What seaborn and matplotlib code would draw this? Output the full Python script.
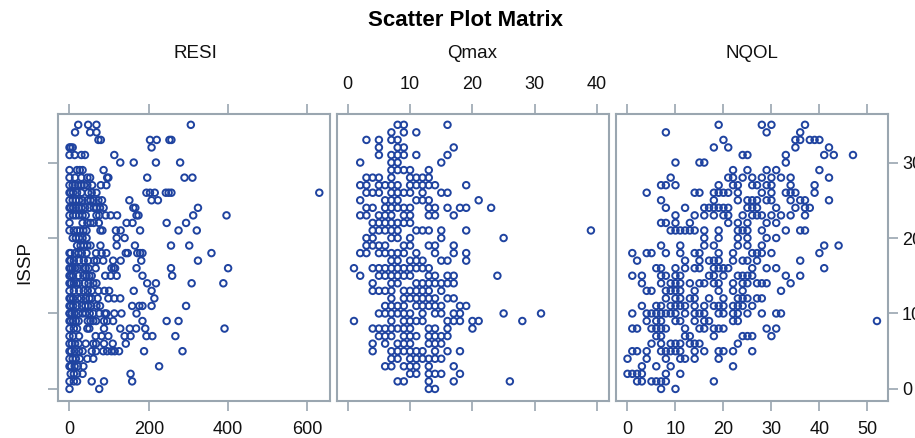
import pandas as pd
import matplotlib.pyplot as plt
import seaborn as sns

# ISSP score of each row of points, top to bottom
issp_rows = [35, 34, 33, 32, 31, 30, 29, 28, 27, 26, 25, 24,
             23, 22, 21, 20, 19, 18, 17, 16, 15, 14, 13, 12,
             11, 10, 9, 8, 7, 6, 5, 4, 3, 2, 1, 0]

resi_rows = [
    [22, 47, 68, 306],
    [14, 52, 68],
    [73, 79, 203, 220, 252, 257],
    [0, 3, 8, 207],
    [0, 13, 30, 39, 113],
    [128, 162, 218, 279],
    [0, 19, 26, 33, 86],
    [0, 14, 30, 45, 52, 95, 98, 196, 290, 310],
    [0, 8, 14, 22, 30, 37, 45, 57, 79, 93],
    [0, 3, 9, 19, 30, 47, 56, 68, 194, 203, 215, 243, 250, 257, 630],
    [0, 8, 16, 24, 33, 45, 53, 61, 73, 82, 151, 207, 223],
    [0, 3, 9, 16, 23, 30, 39, 50, 61, 68, 77, 86, 161, 166, 324],
    [0, 9, 16, 24, 33, 41, 68, 75, 91, 104, 120, 169, 174, 312, 396],
    [0, 33, 45, 53, 61, 74, 144, 159, 245, 294],
    [0, 11, 19, 26, 35, 43, 78, 83, 117, 129, 178, 275, 321],
    [8, 16, 24, 33, 43, 119, 139],
    [19, 28, 36, 45, 53, 78, 119, 165, 256, 302],
    [0, 3, 14, 23, 31, 43, 67, 81, 93, 142, 147, 171, 178, 184, 358],
    [0, 3, 11, 24, 36, 47, 62, 69, 85, 110, 129, 181, 324],
    [0, 3, 8, 14, 21, 35, 41, 48, 66, 106, 112, 115, 169, 256, 400],
    [0, 4, 9, 23, 35, 43, 50, 56, 90, 104, 119, 184, 259],
    [0, 4, 11, 18, 24, 38, 48, 60, 68, 196, 218, 308, 388],
    [0, 11, 24, 36, 46, 56, 73, 88, 100, 162, 207],
    [0, 3, 9, 21, 29, 41, 50, 56, 71, 98, 113, 128, 214],
    [0, 3, 9, 19, 31, 40, 47, 55, 68, 77, 158, 176, 184, 207, 294],
    [0, 1, 6, 13, 23, 33, 41, 51, 60, 75, 89, 93, 113, 131, 169],
    [0, 3, 9, 16, 23, 46, 53, 60, 67, 87, 95, 110, 184, 245, 275],
    [0, 11, 19, 45, 50, 87, 128, 152, 168, 191, 391],
    [0, 9, 24, 66, 81, 98, 139, 154, 194, 209, 267],
    [0, 6, 14, 23, 41, 60, 67, 87, 109, 142],
    [0, 4, 13, 24, 33, 56, 67, 85, 95, 106, 114, 125, 188, 285],
    [0, 8, 16, 26, 45, 60],
    [0, 4, 13, 21, 35, 226],
    [3, 11, 19, 33, 154],
    [0, 11, 19, 56, 87, 158],
    [0, 75],
]

qmax_rows = [
    [8, 9, 16],
    [7, 9, 11],
    [3, 5, 7, 8],
    [5, 8, 9, 17],
    [5, 7, 8, 9, 11, 16],
    [2, 7, 8, 15],
    [7, 8, 9, 10, 13],
    [3, 4, 5, 7, 10, 11, 12, 13],
    [2, 3, 5, 6, 7, 8, 10, 11, 12, 13, 14, 19],
    [3, 4, 5, 7, 8, 9, 10, 12, 15, 16],
    [2, 6, 7, 8, 11, 12, 13, 21],
    [3, 4, 6, 7, 8, 9, 10, 13, 14, 16, 18, 19, 23],
    [2, 3, 5, 6, 7, 9, 10, 13, 14, 17],
    [4, 5, 6, 7, 8, 9, 10],
    [4, 5, 6, 7, 8, 11, 12, 13, 15, 19, 39],
    [3, 4, 7, 8, 10, 15, 25],
    [3, 4, 5, 6, 9, 10, 13, 14, 17],
    [2, 3, 5, 6, 7, 8, 9, 11, 14, 17, 19],
    [7, 8, 10, 11, 12, 15, 16, 19],
    [1, 4, 5, 6, 7, 8, 9, 10, 11, 12, 13],
    [2, 5, 6, 7, 8, 9, 10, 13, 14, 16, 17, 24],
    [4, 7, 8, 11, 12, 13, 14, 15, 16, 17],
    [4, 5, 6, 7, 9, 10, 11, 12, 13, 15],
    [7, 9, 10, 11, 12, 13, 14, 16, 17],
    [6, 7, 8, 9, 11, 12, 13, 14, 15, 18, 19],
    [5, 6, 7, 8, 9, 10, 12, 14, 15, 17, 18, 25, 31],
    [1, 7, 9, 10, 11, 12, 16, 17, 18, 20, 21, 28],
    [4, 5, 6, 7, 8, 9, 10, 13, 14, 16, 20],
    [5, 6, 7, 9, 10, 11, 13, 14, 15, 16],
    [4, 6, 8, 9, 10, 13, 14, 15],
    [4, 7, 8, 9, 10, 11, 12, 14, 16, 18],
    [7, 8, 10, 11, 12, 13, 14, 15],
    [6, 7, 9, 10, 11, 13, 17],
    [10, 11, 13, 14, 15, 18],
    [8, 9, 13, 17, 26],
    [13, 14],
]

nqol_rows = [
    [19, 28, 30, 37],
    [8, 29, 36],
    [20, 35, 36, 38, 39, 40],
    [18, 21, 35, 42],
    [24, 25, 33, 41, 43, 47],
    [10, 15, 16, 33],
    [22, 25, 29, 31, 40],
    [9, 21, 22, 24, 26, 28, 30, 32, 34, 42],
    [7, 8, 10, 19, 22, 23, 26, 27, 29, 30, 34, 39],
    [4, 14, 15, 18, 19, 20, 21, 23, 28, 30, 33, 34, 35, 39],
    [7, 18, 23, 25, 26, 27, 29, 30, 34, 36, 37, 42],
    [8, 12, 16, 17, 18, 19, 20, 21, 25, 26, 27, 31, 35, 37, 38],
    [10, 14, 16, 18, 20, 21, 24, 26, 27, 28, 30, 32, 34, 37],
    [7, 8, 10, 13, 21, 23, 25, 29, 31],
    [9, 10, 11, 12, 13, 14, 16, 19, 23, 24, 25, 28, 33, 36, 37],
    [16, 19, 23, 25, 29, 31],
    [7, 11, 16, 18, 23, 25, 28, 41, 44],
    [1, 4, 5, 8, 11, 14, 15, 19, 22, 26, 27, 28, 30, 40],
    [2, 12, 15, 17, 18, 19, 22, 24, 25, 27, 36],
    [6, 7, 10, 12, 14, 15, 18, 19, 20, 21, 26, 29, 31, 41],
    [1, 3, 7, 8, 10, 11, 17, 18, 20, 23, 24, 25, 26, 33, 36],
    [3, 7, 9, 10, 11, 13, 15, 16, 18, 19, 22, 24, 25, 27, 28, 29, 34],
    [4, 5, 8, 9, 10, 11, 14, 19, 22, 24, 32],
    [8, 10, 11, 13, 14, 17, 20, 23, 24, 25, 27, 28],
    [3, 6, 7, 9, 10, 11, 12, 14, 16, 18, 19, 20, 22, 23, 24, 26],
    [1, 4, 5, 6, 7, 8, 9, 10, 12, 14, 15, 16, 19, 20, 22, 23, 25, 28, 31, 32],
    [4, 6, 7, 10, 11, 14, 16, 17, 22, 23, 52],
    [1, 2, 5, 6, 7, 8, 12, 15, 16, 18, 19, 20, 29, 31],
    [6, 7, 12, 13, 18, 24, 25, 26, 30],
    [5, 7, 9, 10, 11, 13, 14, 15, 23],
    [1, 2, 4, 7, 8, 9, 10, 11, 14, 16, 19, 20, 22, 26],
    [0, 4, 8, 11, 12, 14, 19],
    [3, 6, 9, 22],
    [0, 1, 2, 3, 8, 11],
    [2, 3, 5, 6, 7, 8, 18],
    [7, 10],
]

panel_names = ['RESI', 'Qmax', 'NQOL']
resi_ticks = [0, 200, 400, 600]
qmax_ticks = [0, 10, 20, 30, 40]
nqol_ticks = [0, 10, 20, 30, 40, 50]
issp_ticks = [0, 10, 20, 30]

frame_color = '#9aa6b0'
point_color = '#1f43a0'
text_color = '#111111'


def long_table(rows):
    return pd.DataFrame([(v, y) for y, vals in zip(issp_rows, rows) for v in vals],
                        columns=['value', 'ISSP'])


sns.set_theme(style="white")
plt.rcParams['font.family'] = ['Liberation Sans', 'DejaVu Sans']

W, H = 915, 438
fig = plt.figure(figsize=(W / 100, H / 100), dpi=100)


def px_axes(left, right, top=113.5, bottom=401):
    return fig.add_axes([left / W, 1 - bottom / H, (right - left) / W, (bottom - top) / H])


ax1 = px_axes(58, 330)
ax2 = px_axes(336.5, 609)
ax3 = px_axes(615.5, 888)

panels = [
    (ax1, resi_rows, resi_ticks, (-29, 657)),
    (ax2, qmax_rows, qmax_ticks, (-1.8, 41.9)),
    (ax3, nqol_rows, nqol_ticks, (-2.5, 54.3)),
]

for ax, rows, ticks, xlim in panels:
    sns.scatterplot(data=long_table(rows), x='value', y='ISSP', ax=ax, marker='o', s=22,
                    facecolor='none', edgecolor=point_color, linewidth=1.4, legend=False,
                    clip_on=False)
    ax.set_xlim(*xlim)
    ax.set_ylim(-1.6, 36.5)
    ax.set_xticks(ticks)
    ax.set_yticks(issp_ticks)
    ax.set_xlabel('')
    ax.set_ylabel('')
    ax.tick_params(axis='both', length=7.5, width=1.2, color=frame_color, labelsize=13,
                   labelcolor=text_color, left=False, right=False, labelleft=False,
                   top=True, bottom=True, labeltop=False, labelbottom=False)
    ax.tick_params(axis='x', pad=7)
    ax.tick_params(axis='y', pad=2.5)
    for side in ax.spines.values():
        side.set_color(frame_color)
        side.set_linewidth(1.5)

ax1.tick_params(left=True, labelbottom=True)
ax2.tick_params(labeltop=True)
ax3.tick_params(right=True, labelright=True, labelbottom=True)

fig.text(465 / W, 1 - 20 / H, 'Scatter Plot Matrix', ha='center', va='center',
         fontsize=16, fontweight='bold', color='#000000')
for name, cx in zip(panel_names, [195, 472, 752]):
    fig.text(cx / W, 1 - 53 / H, name, ha='center', va='center', fontsize=13.5, color=text_color)
fig.text(25 / W, 1 - 263 / H, 'ISSP', rotation=90, ha='center', va='center',
         fontsize=13.5, color=text_color)

plt.savefig('out.png', dpi=100)
